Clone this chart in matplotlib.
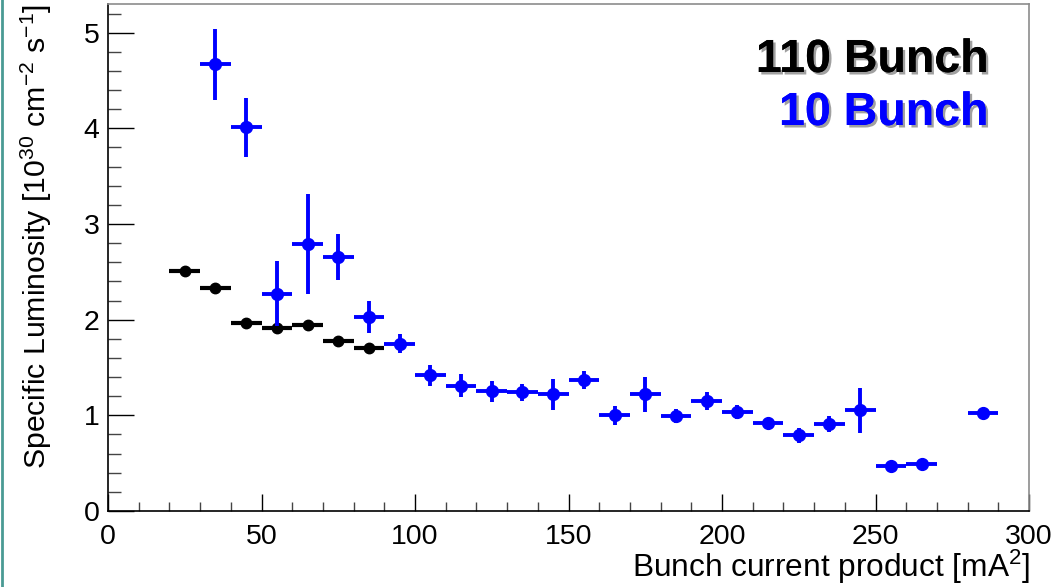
import matplotlib
matplotlib.use("Agg")
import matplotlib.pyplot as plt
import matplotlib.patheffects as pe
from matplotlib.ticker import MultipleLocator
from matplotlib.lines import Line2D

plt.rcParams['font.family'] = ['Liberation Sans', 'DejaVu Sans']
plt.rcParams['mathtext.default'] = 'regular'

# 110 bunch data
x110 = [25, 35, 45, 55, 65, 75, 85]
y110 = [2.51, 2.33, 1.97, 1.91, 1.945, 1.78, 1.70]
e110 = [0.01, 0.01, 0.01, 0.01, 0.01, 0.01, 0.01]

# 10 bunch data
x10 = [35, 45, 55, 65, 75, 85, 95, 105, 115, 125, 135, 145, 155, 165, 175, 185,
       195, 205, 215, 225, 235, 245, 255, 265, 285]
y10 = [4.67, 4.01, 2.27, 2.79, 2.66, 2.03, 1.75, 1.42, 1.31, 1.25, 1.24, 1.22,
       1.37, 1.00, 1.22, 0.99, 1.15, 1.035, 0.92, 0.79, 0.91, 1.055, 0.47, 0.49, 1.02]
e10 = [0.37, 0.31, 0.34, 0.52, 0.24, 0.17, 0.10, 0.11, 0.12, 0.11, 0.09, 0.16,
       0.095, 0.10, 0.18, 0.075, 0.09, 0.075, 0.03, 0.08, 0.08, 0.235, 0.02, 0.02, 0.02]
xerr_half = 5

labels = ["110 Bunch", "10 Bunch"]

W, H = 1057, 587
fig = plt.figure(figsize=(W / 100, H / 100), dpi=100)
ax = fig.add_axes([108 / W, 1 - 511 / H, (1029 - 108) / W, (511 - 4) / H])

ax.errorbar(x110, y110, yerr=e110, xerr=xerr_half, fmt='o', color='black',
            ms=7.5, elinewidth=3.0, capsize=0, zorder=3)
ax.errorbar(x10, y10, yerr=e10, xerr=xerr_half, fmt='o', color='#0000ff',
            ms=8.5, elinewidth=2.8, capsize=0, zorder=4)

ax.set_xlim(0, 300)
ax.set_ylim(0, 5.3)

ax.xaxis.set_major_locator(MultipleLocator(50))
ax.xaxis.set_minor_locator(MultipleLocator(10))
ax.yaxis.set_major_locator(MultipleLocator(1))
ax.yaxis.set_minor_locator(MultipleLocator(0.2))

ax.tick_params(axis='x', which='major', direction='in', length=12, width=1,
               labelsize=20.5, pad=9, colors='black')
ax.tick_params(axis='x', which='minor', direction='in', length=6.5, width=1, color='#444444')
ax.tick_params(axis='y', which='major', direction='in', length=18.5, width=1,
               labelsize=20.5, pad=6)
ax.tick_params(axis='y', which='minor', direction='in', length=9.4, width=1, color='#444444')

for s in ['top', 'right']:
    ax.spines[s].set_color('#8c8c8c')
    ax.spines[s].set_linewidth(1.2)
for s in ['left', 'bottom']:
    ax.spines[s].set_color('black')
    ax.spines[s].set_linewidth(1.2)

fig.text(1030 / W, 1 - 577 / H, 'Bunch current product [mA$^{2}$]',
         ha='right', va='baseline', fontsize=22.8)
fig.text(36 / W, 1 - 4 / H, 'Specific Luminosity [10$^{30}$ cm$^{-2}$ s$^{-1}$]',
         ha='center', va='top', rotation=90, fontsize=21.8)

# Labels with shadow
shadow = [pe.withSimplePatchShadow(offset=(1.8, -1.8), shadow_rgbFace='#a0a0a0', alpha=1.0),
          pe.Normal()]
for lab, col, yb in [(labels[0], 'black', 72), (labels[1], '#0000ff', 125)]:
    fig.text(988 / W, 1 - yb / H, lab, ha='right', va='baseline', fontsize=33.5,
             fontweight='bold', color=col, path_effects=shadow)

# teal left border
fig.add_artist(Line2D([1.5 / W, 1.5 / W], [0, 1], transform=fig.transFigure,
                      color='#4a9a94', lw=2))

fig.savefig('out.png', dpi=100)
